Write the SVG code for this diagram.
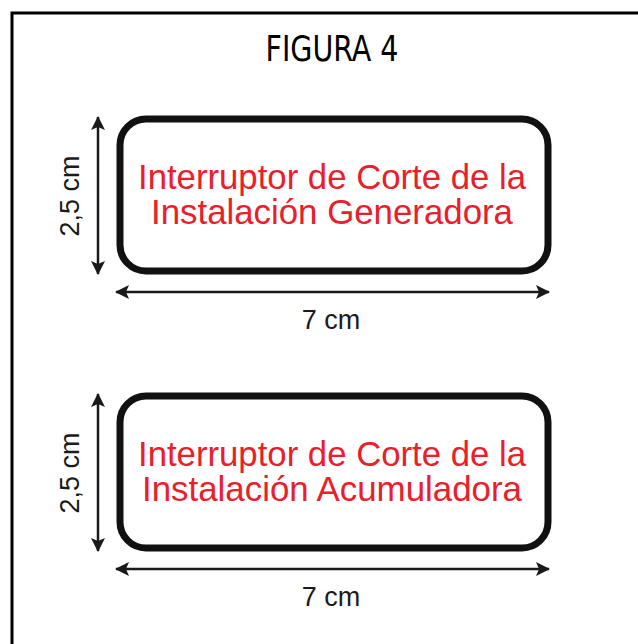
<svg xmlns="http://www.w3.org/2000/svg" width="638" height="644" viewBox="0 0 638 644">
  <defs>
    <marker id="ah" viewBox="0 0 14 14" refX="13" refY="7" markerWidth="14" markerHeight="14" markerUnits="userSpaceOnUse" orient="auto-start-reverse">
      <path d="M0,0 L14,7 L0,14 L3,7 Z" fill="#1a1a1a"/>
    </marker>
  </defs>
  <style>
    .frame { fill: none; stroke: #000; stroke-width: 3; }
    .title { font-family: "DejaVu Sans Condensed", "Liberation Sans Narrow", sans-serif; font-size: 35px; fill: #000; }
    .box { fill: #fff; stroke: #111; stroke-width: 7; }
    .lbl { font-family: "Liberation Sans", Arial, sans-serif; font-size: 34.5px; fill: #e8202a; text-anchor: middle; }
    .dim { stroke: #1a1a1a; stroke-width: 2.5; fill: none; marker-start: url(#ah); marker-end: url(#ah); }
    .dimtxt { font-family: "Liberation Sans", Arial, sans-serif; font-size: 27px; fill: #1a1a1a; text-anchor: middle; }
  </style>
  <rect width="638" height="644" fill="#fff"/>
  <path class="frame" d="M12,644 V13 H640"/>
  <text class="title" x="332" y="61" text-anchor="middle" textLength="133" lengthAdjust="spacingAndGlyphs">FIGURA 4</text>

  <g id="node-generadora">
    <rect class="box" x="120" y="119" width="428" height="152" rx="26" ry="26"/>
    <text class="lbl" x="332" y="189" textLength="388" lengthAdjust="spacingAndGlyphs">Interruptor de Corte de la</text>
    <text class="lbl" x="332" y="224" textLength="362" lengthAdjust="spacingAndGlyphs">Instalación Generadora</text>
  </g>

  <g id="node-acumuladora">
    <rect class="box" x="120" y="396" width="428" height="152" rx="26" ry="26"/>
    <text class="lbl" x="332" y="466" textLength="388" lengthAdjust="spacingAndGlyphs">Interruptor de Corte de la</text>
    <text class="lbl" x="332" y="501" textLength="380" lengthAdjust="spacingAndGlyphs">Instalación Acumuladora</text>
  </g>

  <g id="connectors">
    <line class="dim" x1="98" y1="117" x2="98" y2="274"/>
    <line class="dim" x1="116" y1="292" x2="549" y2="292"/>
    <line class="dim" x1="98" y1="394" x2="98" y2="551"/>
    <line class="dim" x1="116" y1="569" x2="549" y2="569"/>
  </g>

  <g id="dim-labels">
    <text class="dimtxt" transform="translate(79,196) rotate(-90)">2,5 cm</text>
    <text class="dimtxt" x="331" y="329">7 cm</text>
    <text class="dimtxt" transform="translate(79,473) rotate(-90)">2,5 cm</text>
    <text class="dimtxt" x="331" y="606">7 cm</text>
  </g>
</svg>
